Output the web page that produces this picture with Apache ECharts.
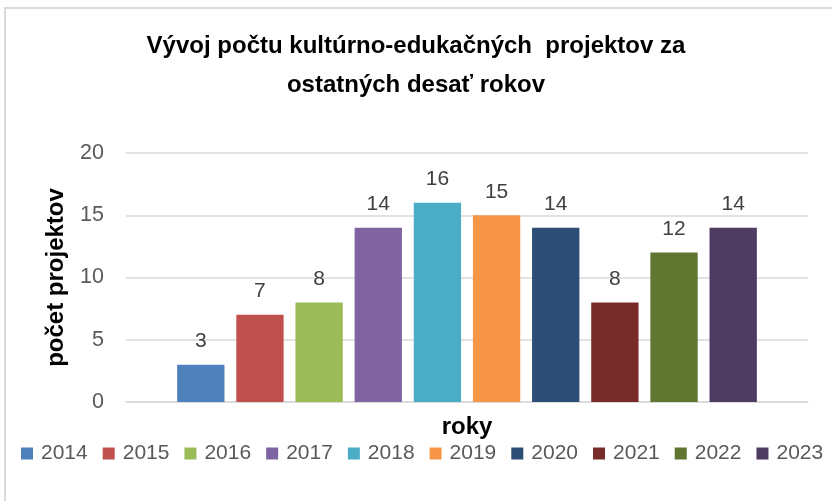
<!DOCTYPE html>
<html>
<head>
<meta charset="utf-8">
<script src="https://cdn.jsdelivr.net/npm/echarts@6/dist/echarts.min.js"></script>
<style>html,body{margin:0;padding:0;background:#fff}#c{width:832px;height:501px}</style>
</head>
<body>
<div id="c"></div>
<script>
const years = ['2014','2015','2016','2017','2018','2019','2020','2021','2022','2023'];
const values = [3,7,8,14,16,15,14,8,12,14];
const colors = ['#4F81BD','#C0504D','#9BBB59','#8064A2','#4BACC6','#F79646','#2C4D75','#772C2A','#5F7530','#4D3B62'];
const yTicks = [0,5,10,15,20];
const titleText = 'Vývoj počtu kultúrno-edukačných  projektov za\nostatných desať rokov';
const FONT = 'Liberation Sans, Arial, sans-serif';

const chart = echarts.init(document.getElementById('c'), null, {renderer:'canvas'});
const series = years.map((y,i)=>({
  name: y,
  type: 'bar',
  data: [values[i]],
  itemStyle: {color: colors[i]},
  barGap: '25%',
  barCategoryGap: '15%',
  label: {show:true, position:'top', distance:13, color:'#404040', fontSize:21, fontFamily:FONT},
  animation:false
}));
chart.setOption({
  animation:false,
  textStyle:{fontFamily:FONT},
  graphic:[{type:'rect', shape:{x:5,y:8,width:840,height:520}, style:{fill:null, stroke:'#D9D9D9', lineWidth:2}, silent:true}],
  title:{text:titleText, left:'center', top:22, textStyle:{fontSize:24, fontWeight:'bold', color:'#000', fontFamily:FONT, lineHeight:39}},
  grid:{left:126, right:24, top:153, bottom:99, containLabel:false},
  legend:{data:years, left:21, top:443, width:811, padding:0, itemWidth:12, itemHeight:12, itemGap:15, icon:'rect',
    textStyle:{fontSize:21, color:'#595959', fontFamily:FONT, padding:[0,0,0,3]}},
  xAxis:{type:'category', data:['roky'], name:'roky', nameLocation:'middle', nameGap:13,
    nameTextStyle:{fontSize:24, fontWeight:'bold', color:'#000'},
    axisLabel:{show:false}, axisTick:{show:false}, axisLine:{lineStyle:{color:'#D9D9D9', width:1.5}}},
  yAxis:{type:'value', min:0, max:20, interval:5, name:'počet projektov', nameLocation:'middle', nameGap:58,
    nameTextStyle:{fontSize:24, fontWeight:'bold', color:'#000'},
    axisLabel:{fontSize:21.5, color:'#595959', margin:22},
    axisLine:{show:false}, axisTick:{show:false},
    splitLine:{lineStyle:{color:'#D9D9D9', width:1.5}}},
  series: series
});
</script>
</body>
</html>
